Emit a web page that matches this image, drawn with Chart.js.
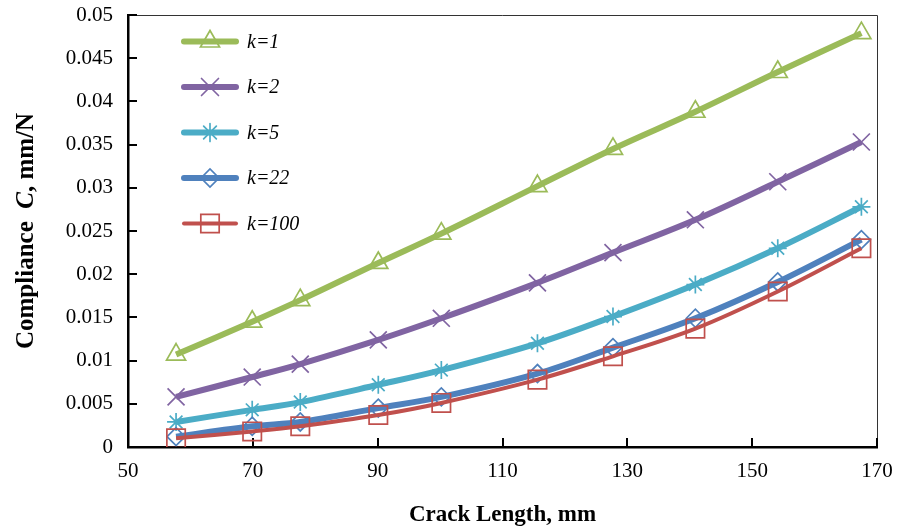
<!DOCTYPE html>
<html>
<head>
<meta charset="utf-8">
<script src="https://cdn.jsdelivr.net/npm/chart.js@4/dist/chart.umd.min.js"></script>
<style>
  body { margin: 0; background: #fff; }
</style>
</head>
<body>
<canvas id="complianceChart" width="903" height="530"></canvas>
<script>
const crackLength = [57.7, 69.9, 77.6, 90.1, 100.2, 115.6, 127.7, 140.9, 154.1, 167.5];

const k1 = [0.0107, 0.0145, 0.0170, 0.0213, 0.0247, 0.0302, 0.0345, 0.0388, 0.0434, 0.0479];
const k2 = [0.0058, 0.0081, 0.0096, 0.0124, 0.0149, 0.0190, 0.0225, 0.0263, 0.0307, 0.0353];
const k5 = [0.0029, 0.0043, 0.0052, 0.0072, 0.0089, 0.0120, 0.0151, 0.0188, 0.0230, 0.0278];
const k22 = [0.0012, 0.0024, 0.0029, 0.0045, 0.0058, 0.0085, 0.0115, 0.0149, 0.0191, 0.0240];
const k100 = [0.0010, 0.0018, 0.0024, 0.0037, 0.0051, 0.0078, 0.0105, 0.0137, 0.0180, 0.0230];

const seriesLabels = ['k=1', 'k=2', 'k=5', 'k=22', 'k=100'];
const xTicks = [50, 70, 90, 110, 130, 150, 170];

const serif = '"Liberation Serif", "Times New Roman", serif';

function pairs(ys) {
    return crackLength.map((x, i) => ({ x: x, y: ys[i] }));
}

function series(label, ys, color, style, radius, width, order) {
    return {
        label: label,
        data: pairs(ys),
        borderColor: color,
        borderWidth: width,
        backgroundColor: color,
        pointStyle: style,
        pointRadius: radius,
        pointBorderWidth: 1.7,
        pointBorderColor: color,
        pointBackgroundColor: 'rgba(0,0,0,0)',
        tension: 0.35,
        order: order
    };
}

// legend: line with marker in the middle, then italic label
const legendLines = {
    id: 'legendLines',
    afterDraw(chart) {
        const ctx = chart.ctx;
        chart.data.datasets.forEach((ds, i) => {
            const y = 41.5 + i * 45.5;
            ctx.save();
            ctx.strokeStyle = ds.borderColor;
            ctx.lineWidth = ds.borderWidth;
            ctx.lineCap = 'round';
            ctx.beginPath();
            ctx.moveTo(184, y);
            ctx.lineTo(236, y);
            ctx.stroke();
            ctx.lineWidth = ds.pointBorderWidth;
            ctx.fillStyle = ds.pointBackgroundColor;
            Chart.helpers.drawPoint(ctx, {
                pointStyle: ds.pointStyle,
                radius: ds.pointRadius,
                borderWidth: ds.pointBorderWidth,
                rotation: 0
            }, 210, y);
            ctx.fillStyle = '#000';
            ctx.font = 'italic 20px ' + serif;
            ctx.textBaseline = 'middle';
            ctx.fillText(ds.label, 247, y + 1);
            ctx.restore();
        });
    }
};

// box around plot area and inward tick marks
const frameTicks = {
    id: 'frameTicks',
    beforeDatasetsDraw(chart) {
        const ctx = chart.ctx;
        const a = chart.chartArea;
        const xs = chart.scales.x, ys = chart.scales.y;
        ctx.save();
        ctx.strokeStyle = '#333';
        ctx.lineWidth = 1;
        ctx.beginPath();
        ctx.moveTo(a.left, a.top + 0.5);
        ctx.lineTo(a.right + 0.5, a.top + 0.5);
        ctx.lineTo(a.right + 0.5, a.bottom);
        ctx.stroke();
        ctx.strokeStyle = '#000';
        ctx.lineWidth = 2;
        ctx.beginPath();
        xs.ticks.forEach(t => {
            const px = Math.round(xs.getPixelForValue(t.value));
            ctx.moveTo(px, a.bottom);
            ctx.lineTo(px, a.bottom - 9);
        });
        ys.ticks.forEach(t => {
            const py = Math.round(ys.getPixelForValue(t.value));
            ctx.moveTo(a.left, py);
            ctx.lineTo(a.left + 9, py);
        });
        ctx.stroke();
        ctx.restore();
    },
    afterDraw(chart) {
        const ctx = chart.ctx;
        const a = chart.chartArea;
        ctx.save();
        ctx.fillStyle = '#000';
        // x title
        ctx.font = 'bold 23px ' + serif;
        ctx.textAlign = 'center';
        ctx.textBaseline = 'middle';
        ctx.fillText('Crack Length, mm', (a.left + a.right) / 2, 515);
        // y title with italic C
        const parts = [
            ['Compliance  ', 'bold 25px ' + serif],
            ['C', 'bold italic 25px ' + serif],
            [', mm/N', 'bold 25px ' + serif]
        ];
        let total = 0;
        parts.forEach(p => { ctx.font = p[1]; total += ctx.measureText(p[0]).width; });
        ctx.translate(27, 231);
        ctx.rotate(-Math.PI / 2);
        ctx.textAlign = 'left';
        let x = -total / 2;
        parts.forEach(p => {
            ctx.font = p[1];
            ctx.fillText(p[0], x, 0);
            x += ctx.measureText(p[0]).width;
        });
        ctx.restore();
    }
};

new Chart(document.getElementById('complianceChart'), {
    type: 'line',
    data: {
        datasets: [
            series(seriesLabels[0], k1, '#9BBB59', 'triangle', 11, 6, 5),
            series(seriesLabels[1], k2, '#8064A2', 'crossRot', 12, 6, 4),
            series(seriesLabels[2], k5, '#4BACC6', 'star', 9, 6, 3),
            series(seriesLabels[3], k22, '#4F81BD', 'rectRot', 9, 6, 2),
            series(seriesLabels[4], k100, '#C0504D', 'rect', 13, 4, 1)
        ]
    },
    options: {
        responsive: false,
        devicePixelRatio: 1,
        animation: false,
        layout: { padding: { top: 15, right: 26, left: 0, bottom: 0 } },
        plugins: {
            legend: { display: false },
            tooltip: { enabled: false }
        },
        scales: {
            x: {
                type: 'linear',
                min: 50,
                max: 170,
                afterBuildTicks: s => { s.ticks = xTicks.map(v => ({ value: v })); },
                afterFit: s => { s.height = 83; s.paddingLeft = 0; s.paddingRight = 0; },
                grid: { display: false, drawTicks: false },
                border: { display: true, color: '#000', width: 2.5 },
                ticks: {
                    padding: 12,
                    color: '#000',
                    font: { family: serif, size: 21 },
                    maxRotation: 0
                }
            },
            y: {
                min: 0,
                max: 0.05,
                afterFit: s => { s.width = 128; s.paddingTop = 0; s.paddingBottom = 0; },
                grid: { display: false, drawTicks: false },
                border: { display: true, color: '#000', width: 2.5 },
                ticks: {
                    stepSize: 0.005,
                    padding: 15,
                    color: '#000',
                    font: { family: serif, size: 21 },
                    callback: v => String(+v.toFixed(3))
                }
            }
        }
    },
    plugins: [frameTicks, legendLines]
});
</script>
</body>
</html>
